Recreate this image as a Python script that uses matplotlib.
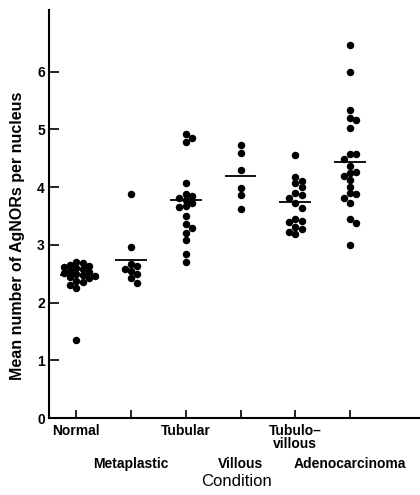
import matplotlib
matplotlib.use("Agg")
import matplotlib.pyplot as plt
import numpy as np

# ── Data ─────────────────────────────────────────────────────────────────────
conditions = ["Normal", "Metaplastic", "Tubular", "Villous",
              "Tubulo\u2013\nvillous", "Adenocarcinoma"]

normal = [2.70, 2.69, 2.65, 2.63, 2.62, 2.60, 2.58, 2.55, 2.53, 2.52,
          2.50, 2.48, 2.46, 2.45, 2.42, 2.38, 2.35, 2.30, 2.26, 1.35]
metaplastic = [3.88, 2.97, 2.66, 2.63, 2.59, 2.55, 2.50, 2.42, 2.34]
tubular = [4.92, 4.85, 4.78, 4.07, 3.88, 3.84, 3.82, 3.78, 3.72, 3.68,
           3.66, 3.50, 3.36, 3.29, 3.21, 3.09, 2.85, 2.70]
villous = [4.73, 4.59, 4.30, 3.98, 3.86, 3.62]
tubulovillous = [4.56, 4.18, 4.10, 4.07, 4.00, 3.90, 3.86, 3.81, 3.72,
                 3.64, 3.45, 3.42, 3.40, 3.31, 3.28, 3.22, 3.18]
adenocarcinoma = [6.46, 6.00, 5.34, 5.19, 5.16, 5.02, 4.57, 4.57, 4.49,
                  4.36, 4.27, 4.25, 4.20, 4.12, 4.01, 3.90, 3.88, 3.81,
                  3.72, 3.44, 3.38, 3.00]

groups = [normal, metaplastic, tubular, villous, tubulovillous, adenocarcinoma]
means = [2.47, 2.74, 3.78, 4.19, 3.75, 4.43]

yticks = [0, 1, 2, 3, 4, 5, 6]

FONT = "Liberation Sans"
DOT_PX = 7.5


def swarm_offsets(vals, ax, pos):
    """Greedy beeswarm in pixel space; returns x offsets in data units."""
    to_px = ax.transData.transform
    px_per_x = to_px((pos + 1, 0))[0] - to_px((pos, 0))[0]
    order = np.argsort(vals)[::-1]
    placed = []
    offs = np.zeros(len(vals))
    step = DOT_PX * 0.85
    for i in order:
        ypx = to_px((pos, vals[i]))[1]
        for k in [0, 1, -1, 2, -2, 3, -3]:
            xpx = k * step
            if all((xpx - a) ** 2 + (ypx - b) ** 2 >= (DOT_PX * 0.72) ** 2
                   for a, b in placed):
                break
        placed.append((xpx, ypx))
        offs[i] = xpx / px_per_x
    return offs


fig = plt.figure(figsize=(4.2, 4.95), dpi=100)
ax = fig.add_axes([49 / 420, 77 / 495, 371 / 420, 408 / 495])
ax.set_xlim(0.5, 7.28)
ax.set_ylim(0, 7.07)

for sp in ["top", "right"]:
    ax.spines[sp].set_visible(False)
for sp in ["left", "bottom"]:
    ax.spines[sp].set_linewidth(1.5)

for i, vals in enumerate(groups):
    pos = i + 1
    offs = swarm_offsets(np.array(vals), ax, pos)
    ax.scatter(pos + offs, vals, s=(DOT_PX / 1.389) ** 2, color="black",
               linewidths=0, zorder=3)
    ax.hlines(means[i], pos - 0.29, pos + 0.29, color="black", lw=1.3,
              zorder=2)

ax.set_yticks(yticks)
ax.set_yticklabels([str(t) for t in yticks], fontfamily=FONT,
                   fontweight="bold", fontsize=10)
ax.set_xticks(range(1, len(conditions) + 1))
ax.set_xticklabels([])
ax.tick_params(axis="y", direction="in", length=7, width=1.2, pad=3)
ax.tick_params(axis="x", direction="in", length=6, width=1.2)

# category labels in two staggered rows
rows = [0, 1, 0, 1, 0, 1]
for i, (lab, r) in enumerate(zip(conditions, rows)):
    off = -4 if r == 0 else -28
    ax.annotate(lab, xy=(i + 1, 0), xycoords=("data", "axes fraction"),
                xytext=(0, off), textcoords="offset points",
                ha="center", va="top", fontsize=10, fontweight="bold",
                fontfamily=FONT, linespacing=0.95, annotation_clip=False)

fig.text(236 / 420, 1 - 482 / 495, "Condition", ha="center", va="center",
         fontsize=12, fontfamily=FONT)
fig.text(18 / 420, 1 - 236 / 495, "Mean number of AgNORs per nucleus",
         rotation=90, ha="center", va="center", fontsize=11.5,
         fontweight="bold", fontfamily=FONT)

fig.savefig("out.png", dpi=100)
